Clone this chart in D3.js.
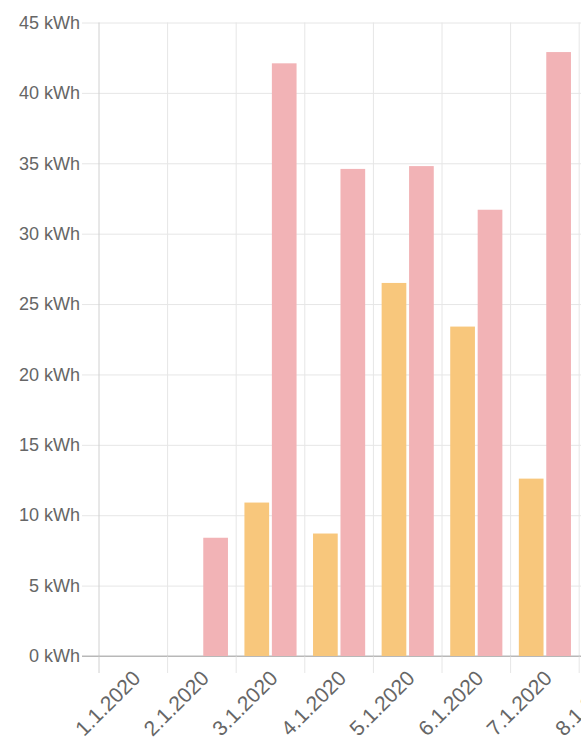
<!DOCTYPE html>
<html>
<head>
<meta charset="utf-8">
<script src="https://cdn.jsdelivr.net/npm/d3@7"></script>
<style>
  html, body { margin: 0; padding: 0; background: #fff; overflow: hidden; }
  text { font-family: "Liberation Sans", Arial, Helvetica, sans-serif; fill: #666; }
</style>
</head>
<body>
<div id="chart"></div>
<script>
// Chart values
var days = ["1.1.2020", "2.1.2020", "3.1.2020", "4.1.2020", "5.1.2020", "6.1.2020", "7.1.2020", "8.1.2020"];
var seriesNames = ["produced", "consumed"];
var produced = [0, 0, 10.9, 8.7, 26.5, 23.4, 12.6, null];
var consumed = [0, 8.4, 42.1, 34.6, 34.8, 31.7, 42.9, null];
var yTicks = [0, 5, 10, 15, 20, 25, 30, 35, 40, 45];
var colors = {produced: "#f8c77c", consumed: "#f2b3b6"};

var width = 581, height = 742;
var plotLeft = 99, plotTop = 22.5, plotBottom = 656;
var step = 68.6;

var svg = d3.select("#chart").append("svg")
    .attr("width", width)
    .attr("height", height);

var x = d3.scaleBand()
    .domain(days)
    .range([plotLeft, plotLeft + step * days.length]);

var xs = d3.scaleBand()
    .domain(seriesNames)
    .range([x.bandwidth() * 0.1, x.bandwidth() * 0.9])
    .paddingInner(0.1)
    .paddingOuter(0.05);

var y = d3.scaleLinear()
    .domain([0, 45])
    .range([plotBottom, plotTop]);

// horizontal grid lines + y labels
var yAxis = d3.axisLeft(y)
    .tickValues(yTicks)
    .tickSize(-(width - plotLeft))
    .tickPadding(19)
    .tickFormat(function(d) { return d + " kWh"; });

var gy = svg.append("g")
    .attr("transform", "translate(" + plotLeft + ",0)")
    .call(yAxis);
gy.select(".domain").remove();
gy.selectAll(".tick line")
    .attr("x1", -17)
    .attr("stroke", function(d) { return d === 0 ? "#b8b8b8" : "#e6e6e6"; });
gy.selectAll(".tick text")
    .style("font-size", "18px")
    .style("fill", "#666");

// vertical grid lines between categories
var bounds = days.map(function(d) { return x(d); });
bounds.push(x(days[days.length - 1]) + x.bandwidth());
svg.append("g").selectAll("line")
    .data(bounds)
    .enter().append("line")
    .attr("x1", function(d) { return d; })
    .attr("x2", function(d) { return d; })
    .attr("y1", plotTop)
    .attr("y2", plotBottom + 17)
    .attr("stroke", function(d, i) { return i === 0 ? "#d0d0d0" : "#e6e6e6"; });

// zero line on top of grid
svg.append("line")
    .attr("x1", plotLeft - 17).attr("x2", width)
    .attr("y1", plotBottom).attr("y2", plotBottom)
    .attr("stroke", "#b8b8b8");

// bars
var rows = days.map(function(d, i) {
    return {day: d, produced: produced[i], consumed: consumed[i]};
});

var groups = svg.append("g").selectAll("g")
    .data(rows)
    .enter().append("g")
    .attr("transform", function(d) { return "translate(" + x(d.day) + ",0)"; });

groups.selectAll("rect")
    .data(function(d) {
        return seriesNames.map(function(k) { return {key: k, value: d[k]}; })
            .filter(function(e) { return e.value; });
    })
    .enter().append("rect")
    .attr("x", function(d) { return xs(d.key); })
    .attr("width", xs.bandwidth())
    .attr("y", function(d) { return y(d.value); })
    .attr("height", function(d) { return y(0) - y(d.value); })
    .attr("fill", function(d) { return colors[d.key]; });

// x labels, rotated
svg.append("g").selectAll("text")
    .data(days)
    .enter().append("text")
    .attr("transform", function(d) {
        return "translate(" + (x(d) + x.bandwidth() / 2 - 2) + "," + (plotBottom + 13) + ") rotate(-45)";
    })
    .attr("text-anchor", "end")
    .attr("dy", "0.7em")
    .style("font-size", "21px")
    .text(function(d) { return d; });
</script>
</body>
</html>
